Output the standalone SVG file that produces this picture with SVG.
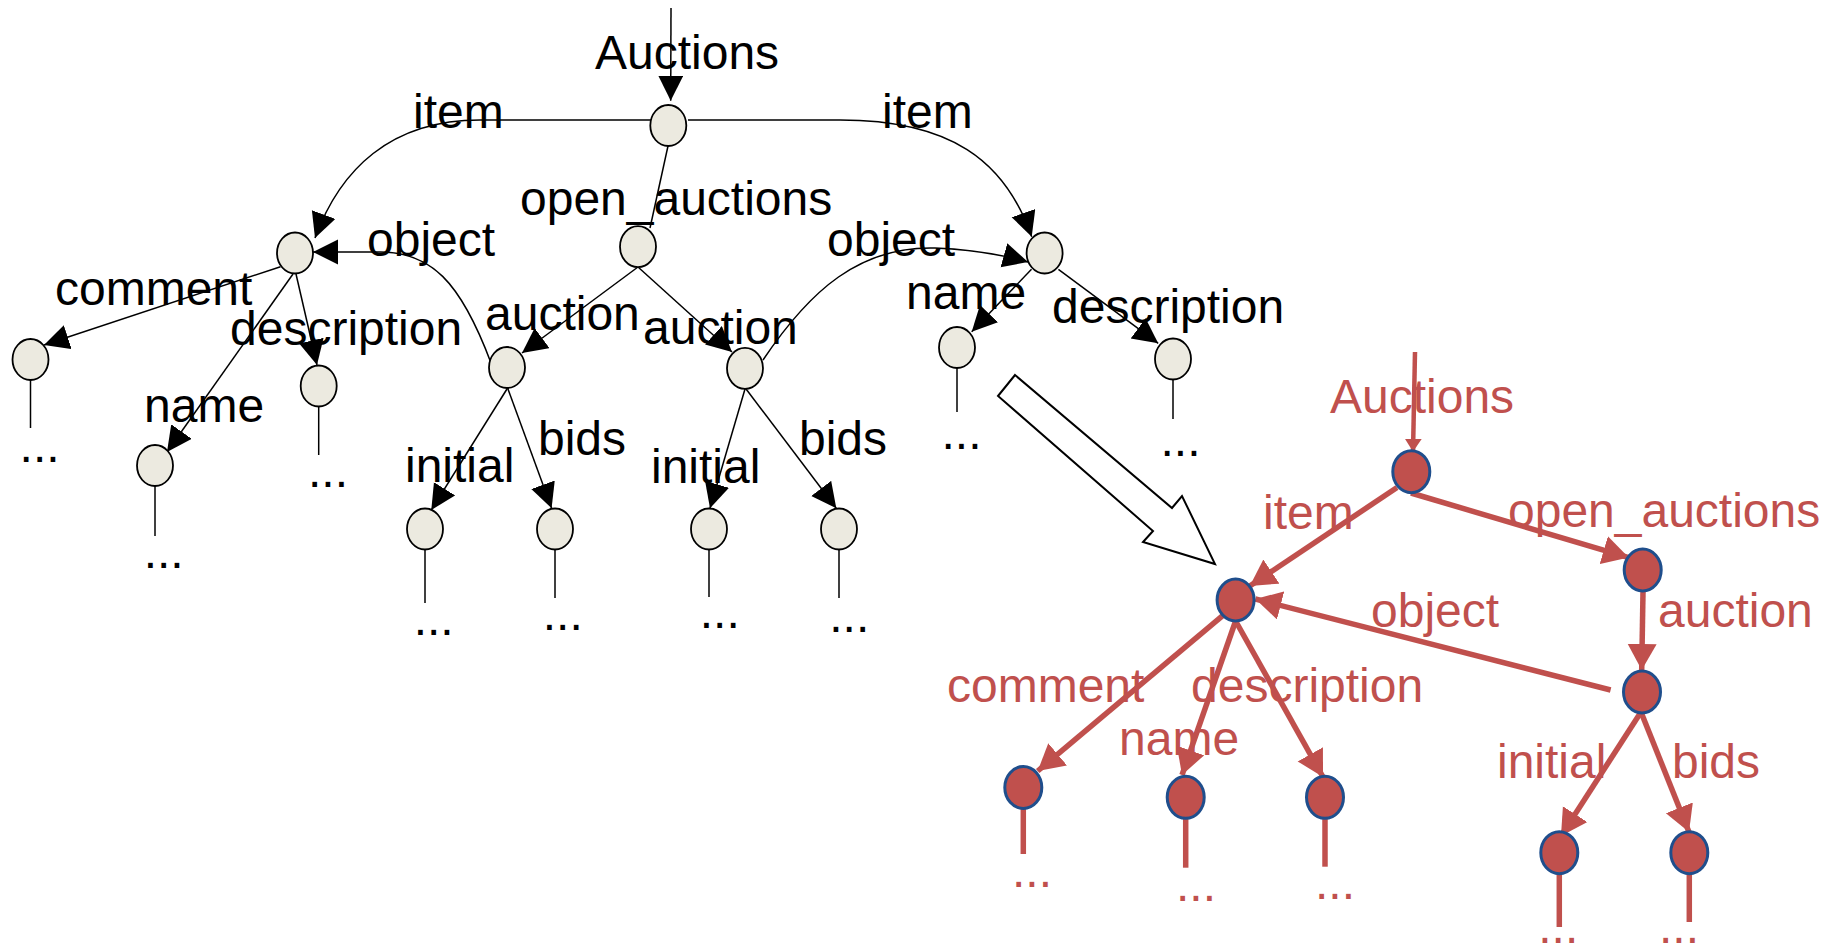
<svg xmlns="http://www.w3.org/2000/svg" width="1837" height="947" viewBox="0 0 1837 947">
<style>
text{font-family:"Liberation Sans",Arial,sans-serif;font-size:48px}
.bl{fill:#000}
.rd{fill:#C0504D}
.bn{fill:#ECEAE0;stroke:#000;stroke-width:1.8}
.rn{fill:#C0504D;stroke:#1F4E8C;stroke-width:3}
.be{fill:none;stroke:#000;stroke-width:1.5}
.ba{fill:none;stroke:#000;stroke-width:1.5;marker-end:url(#ab)}
.re{fill:none;stroke:#C0504D;stroke-width:5.5}
.ra{fill:none;stroke:#C0504D;stroke-width:5.5;marker-end:url(#ar)}
</style>
<defs>
<marker id="ab" markerUnits="userSpaceOnUse" markerWidth="26" markerHeight="26" refX="25" refY="12.5" orient="auto"><path d="M0,0 L25,12.5 L0,25 z" fill="#000"/></marker>
<marker id="ar" markerUnits="userSpaceOnUse" markerWidth="28" markerHeight="30" refX="26" refY="14.5" orient="auto"><path d="M0,0 L26,14.5 L0,29 z" fill="#C0504D"/></marker>
<marker id="ars" markerUnits="userSpaceOnUse" markerWidth="14" markerHeight="18" refX="13" refY="8.5" orient="auto"><path d="M0,0 L13,8.5 L0,17 z" fill="#C0504D"/></marker>
</defs>

<g id="connectors">
<!-- black tree -->
<line class="ba" x1="671" y1="8" x2="670.7" y2="100.7"/>
<path class="ba" d="M652,120 H480 C390,120 340,170 315,238"/>
<path class="ba" d="M688,120 H840 C950,120 1005,160 1031.7,236.7"/>
<line class="be" x1="668" y1="146" x2="650" y2="228"/>
<path class="ba" d="M491,363 C460,280 430,252 380,252 L313,252"/>
<path class="ba" d="M763,360 C810,290 860,246 935,248 Q985,250 1028,262"/>
<line class="ba" x1="280.5" y1="266.7" x2="44" y2="345"/>
<line class="ba" x1="293" y1="274" x2="167" y2="452"/>
<line class="ba" x1="296" y1="274" x2="317" y2="365"/>
<line class="ba" x1="638" y1="267" x2="522" y2="353"/>
<line class="ba" x1="638" y1="267" x2="732" y2="352"/>
<line class="ba" x1="507.6" y1="388" x2="431.3" y2="510"/>
<line class="ba" x1="507.6" y1="388" x2="551.6" y2="508.3"/>
<line class="ba" x1="745.3" y1="388" x2="710" y2="508.3"/>
<line class="ba" x1="745.3" y1="388" x2="836.3" y2="508.3"/>
<line class="ba" x1="1031.5" y1="269.3" x2="971.7" y2="331.7"/>
<line class="ba" x1="1058.4" y1="269.3" x2="1158.2" y2="343.3"/>
<line class="be" x1="30.5" y1="380" x2="30.5" y2="428"/>
<line class="be" x1="155" y1="486" x2="155" y2="536"/>
<line class="be" x1="318.7" y1="406.5" x2="318.7" y2="455"/>
<line class="be" x1="425" y1="549.5" x2="425" y2="603"/>
<line class="be" x1="555" y1="549.5" x2="555" y2="598"/>
<line class="be" x1="709" y1="549.5" x2="709" y2="597"/>
<line class="be" x1="839" y1="549.5" x2="839" y2="598"/>
<line class="be" x1="957" y1="368" x2="957" y2="412"/>
<line class="be" x1="1173" y1="379.5" x2="1173" y2="419"/>
<!-- red tree -->
<line class="re" x1="1415" y1="352" x2="1413" y2="451.7" style="stroke-width:4.5;marker-end:url(#ars)"/>
<line class="ra" x1="1397" y1="487.5" x2="1249.8" y2="586"/>
<line class="ra" x1="1411" y1="493" x2="1628.7" y2="557.6"/>
<line class="ra" x1="1643" y1="592" x2="1641.7" y2="670"/>
<line class="ra" x1="1610.6" y1="690" x2="1255.4" y2="599"/>
<line class="ra" x1="1223" y1="615.4" x2="1037.7" y2="771"/>
<line class="ra" x1="1235.6" y1="621" x2="1182" y2="775"/>
<line class="ra" x1="1235.6" y1="621" x2="1323" y2="777"/>
<line class="ra" x1="1641" y1="712" x2="1561" y2="836"/>
<line class="ra" x1="1641" y1="712" x2="1689" y2="832"/>
<line class="re" x1="1023.3" y1="808" x2="1023.3" y2="854"/>
<line class="re" x1="1185.7" y1="818" x2="1185.7" y2="867.7"/>
<line class="re" x1="1325" y1="818" x2="1325" y2="866.7"/>
<line class="re" x1="1559.3" y1="873" x2="1559.3" y2="927"/>
<line class="re" x1="1689.3" y1="873" x2="1689.3" y2="922"/>
</g>

<g id="transform-arrow">
<polygon points="1015,375 1172,508 1182,496 1215,564 1143,542 1153,531 998,396" fill="#fff" stroke="#000" stroke-width="2"/>
</g>

<g id="black-nodes">
<g id="nA"><ellipse class="bn" cx="668.3" cy="125.5" rx="18" ry="20.5"/></g>
<g id="nB"><ellipse class="bn" cx="295" cy="253" rx="18" ry="20.5"/></g>
<g id="nC"><ellipse class="bn" cx="1044.6" cy="253" rx="18" ry="20.5"/></g>
<g id="nD"><ellipse class="bn" cx="638" cy="246.7" rx="18" ry="20.5"/></g>
<g id="nE"><ellipse class="bn" cx="30.5" cy="359.5" rx="18" ry="20.5"/></g>
<g id="nF"><ellipse class="bn" cx="155" cy="465.5" rx="18" ry="20.5"/></g>
<g id="nG"><ellipse class="bn" cx="318.7" cy="386" rx="18" ry="20.5"/></g>
<g id="nH"><ellipse class="bn" cx="507" cy="367.5" rx="18" ry="20.5"/></g>
<g id="nI"><ellipse class="bn" cx="745" cy="368.3" rx="18" ry="20.5"/></g>
<g id="nJ"><ellipse class="bn" cx="957" cy="347.5" rx="18" ry="20.5"/></g>
<g id="nK"><ellipse class="bn" cx="1173" cy="359" rx="18" ry="20.5"/></g>
<g id="nL"><ellipse class="bn" cx="425" cy="529" rx="18" ry="20.5"/></g>
<g id="nM"><ellipse class="bn" cx="555" cy="529" rx="18" ry="20.5"/></g>
<g id="nN"><ellipse class="bn" cx="709" cy="529" rx="18" ry="20.5"/></g>
<g id="nO"><ellipse class="bn" cx="839" cy="529" rx="18" ry="20.5"/></g>
</g>

<g id="red-nodes">
<g id="r1"><ellipse class="rn" cx="1411.3" cy="471.7" rx="18.5" ry="21"/></g>
<g id="r2"><ellipse class="rn" cx="1235.6" cy="600" rx="18.5" ry="21"/></g>
<g id="r3"><ellipse class="rn" cx="1642.7" cy="570" rx="18.5" ry="21"/></g>
<g id="r4"><ellipse class="rn" cx="1642" cy="692" rx="18.5" ry="21"/></g>
<g id="r5"><ellipse class="rn" cx="1023.3" cy="787.5" rx="18.5" ry="21"/></g>
<g id="r6"><ellipse class="rn" cx="1185.7" cy="797.3" rx="18.5" ry="21"/></g>
<g id="r7"><ellipse class="rn" cx="1325" cy="797.3" rx="18.5" ry="21"/></g>
<g id="r8"><ellipse class="rn" cx="1559.3" cy="852.7" rx="18.5" ry="21"/></g>
<g id="r9"><ellipse class="rn" cx="1689.3" cy="852.7" rx="18.5" ry="21"/></g>
</g>

<g id="black-labels" class="bl">
<text x="595" y="69">Auctions</text>
<text x="413" y="128">item</text>
<text x="882" y="128">item</text>
<text x="520" y="215">open_auctions</text>
<text x="367" y="256">object</text>
<text x="827" y="256">object</text>
<text x="55" y="305">comment</text>
<text x="230" y="345">description</text>
<text x="485" y="330">auction</text>
<text x="643" y="344">auction</text>
<text x="144" y="422">name</text>
<text x="405" y="482">initial</text>
<text x="538" y="455">bids</text>
<text x="651" y="483">initial</text>
<text x="799" y="455">bids</text>
<text x="906" y="309">name</text>
<text x="1052" y="323">description</text>
<g text-anchor="middle">
<text x="39.6" y="462">...</text>
<text x="328" y="487">...</text>
<text x="163.7" y="568">...</text>
<text x="433.7" y="635">...</text>
<text x="562.8" y="630">...</text>
<text x="719.8" y="628">...</text>
<text x="849.3" y="632">...</text>
<text x="961.5" y="449">...</text>
<text x="1180.5" y="456">...</text>
</g>
</g>

<g id="red-labels" class="rd">
<text x="1330" y="413" class="rd">Auctions</text>
<text x="1263" y="529" class="rd">item</text>
<text x="1508" y="527" class="rd">open_auctions</text>
<text x="1371" y="627" class="rd">object</text>
<text x="1658" y="627" class="rd">auction</text>
<text x="947" y="702" class="rd">comment</text>
<text x="1191" y="702" class="rd">description</text>
<text x="1119" y="755" class="rd">name</text>
<text x="1497" y="778" class="rd">initial</text>
<text x="1672" y="778" class="rd">bids</text>
<g text-anchor="middle">
<text x="1032" y="887" class="rd">...</text>
<text x="1196" y="901" class="rd">...</text>
<text x="1335" y="899" class="rd">...</text>
<text x="1558.3" y="943" class="rd">...</text>
<text x="1679" y="943" class="rd">...</text>
</g>
</g>
</svg>
